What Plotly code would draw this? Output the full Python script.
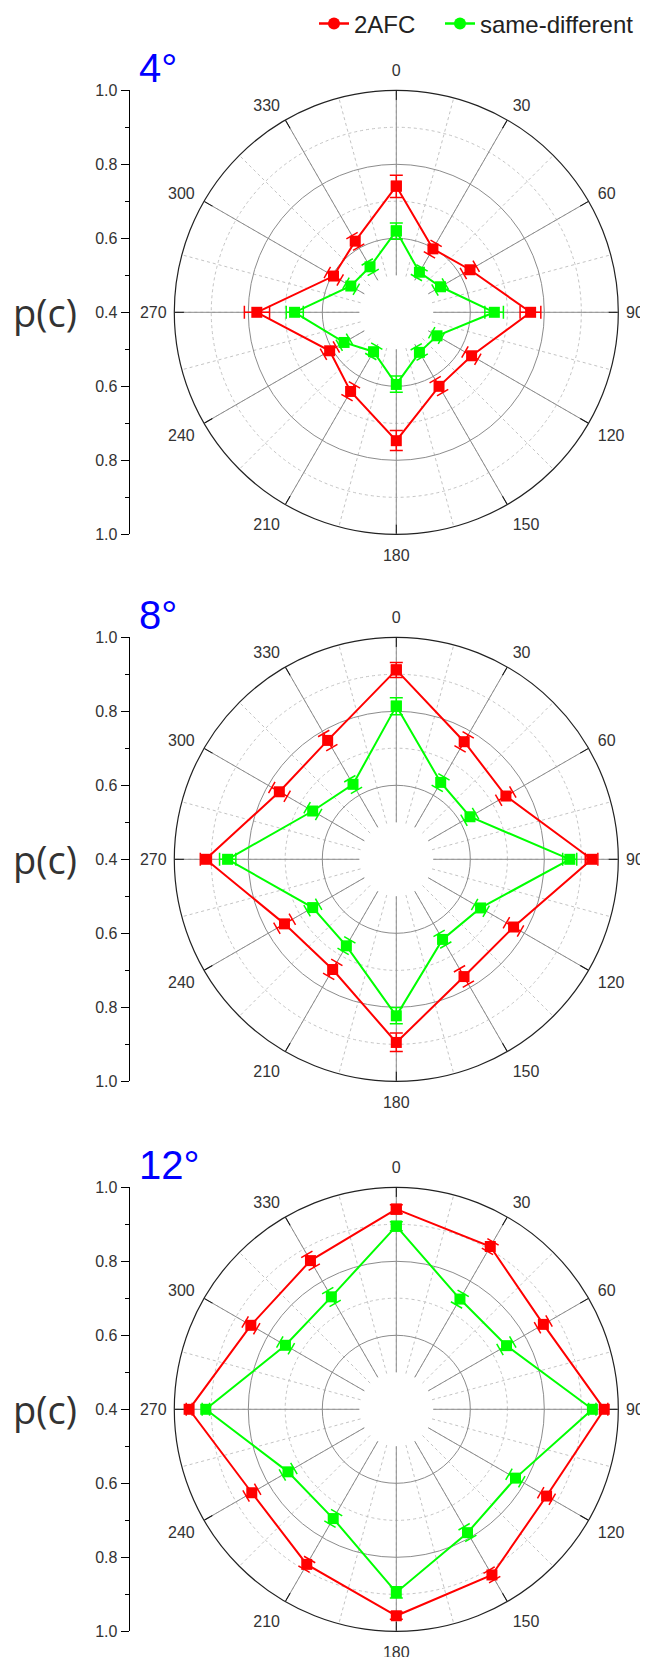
import math
import plotly.graph_objects as go

# ---------------- data ----------------
angles = [0, 30, 60, 90, 120, 150, 180, 210, 240, 270, 300, 330]
angle_labels = [str(a) for a in angles]

panel_titles = ["4°", "8°", "12°"]

p4_2afc = [0.741, 0.598, 0.630, 0.763, 0.635, 0.631, 0.747, 0.647, 0.608, 0.777, 0.596, 0.622]
p4_2afc_err = [0.030, 0.018, 0.020, 0.028, 0.020, 0.020, 0.027, 0.020, 0.020, 0.034, 0.020, 0.018]
p4_sd = [0.620, 0.525, 0.538, 0.665, 0.527, 0.525, 0.595, 0.523, 0.563, 0.675, 0.542, 0.542]
p4_sd_err = [0.022, 0.015, 0.016, 0.025, 0.015, 0.016, 0.022, 0.016, 0.016, 0.023, 0.016, 0.016]

p8_2afc = [0.912, 0.767, 0.742, 0.928, 0.766, 0.766, 0.895, 0.744, 0.749, 0.915, 0.765, 0.771]
p8_2afc_err = [0.020, 0.022, 0.022, 0.017, 0.022, 0.024, 0.025, 0.022, 0.024, 0.015, 0.024, 0.022]
p8_sd = [0.814, 0.640, 0.630, 0.869, 0.663, 0.650, 0.823, 0.670, 0.661, 0.856, 0.661, 0.634]
p8_sd_err = [0.023, 0.018, 0.018, 0.019, 0.018, 0.018, 0.022, 0.018, 0.018, 0.022, 0.018, 0.018]

p12_2afc = [0.941, 0.908, 0.859, 0.962, 0.869, 0.917, 0.958, 0.884, 0.851, 0.960, 0.854, 0.864]
p12_2afc_err = [0.012, 0.015, 0.018, 0.010, 0.018, 0.015, 0.010, 0.015, 0.018, 0.008, 0.018, 0.020]
p12_sd = [0.895, 0.744, 0.744, 0.930, 0.772, 0.785, 0.895, 0.741, 0.738, 0.915, 0.746, 0.751]
p12_sd_err = [0.012, 0.018, 0.020, 0.010, 0.020, 0.018, 0.015, 0.018, 0.018, 0.010, 0.018, 0.020]

series_names = ["2AFC", "same-different"]

# left p(c) axis: signed distance from centre -> label
pc_tickvals = [-0.6, -0.4, -0.2, 0.0, 0.2, 0.4, 0.6]
pc_ticktext = ["1.0", "0.8", "0.6", "0.4", "0.6", "0.8", "1.0"]
pc_minor = [-0.5, -0.3, -0.1, 0.1, 0.3, 0.5]

# ---------------- style / geometry ----------------
PAGE_W, PAGE_H = 648, 1657
OFF = 8  # page body margin
W, H = PAGE_W - OFF, PAGE_H - OFF
CX, RAD = 396.3, 222.0
CYS = [312.3, 859.3, 1409.3]
R_MIN, R_HOLE, R_MAX = 0.4, 0.5, 1.0
PX_PER_UNIT = RAD / (R_MAX - R_MIN)
CAP_HALF_PX = 6.5
RED, GREEN = "#ff0000", "#00ff00"
TXT = "#333333"
FONT = "Liberation Sans, Arial, sans-serif"

# horizontal (90/270) labels sit a little closer to the circle than the others
is_side = [a % 180 == 90 for a in angles]
labels_side = [t if s else "" for t, s in zip(angle_labels, is_side)]
labels_rest = ["" if s else t for t, s in zip(angle_labels, is_side)]


def fx(x):
    return (x - OFF) / W


def fy(y):
    return 1 - (y - OFF) / H


def err_segments(vals, errs):
    rr, tt = [], []
    for a, v, e in zip(angles, vals, errs):
        rr += [v - e, v + e, None]
        tt += [a, a, None]
        for rc in (v - e, v + e):
            d = math.degrees(CAP_HALF_PX / ((rc - R_MIN) * PX_PER_UNIT))
            rr += [rc, rc, None]
            tt += [a - d, a + d, None]
    return rr, tt


panels = [
    (p4_2afc, p4_2afc_err, p4_sd, p4_sd_err),
    (p8_2afc, p8_2afc_err, p8_sd, p8_sd_err),
    (p12_2afc, p12_2afc_err, p12_sd, p12_sd_err),
]

fig = go.Figure()
layout = {}
annotations = []
hole = (R_HOLE - R_MIN) / (R_MAX - R_MIN)
ang_common = dict(rotation=90, direction="clockwise")
tick_font = dict(size=16, color=TXT, family=FONT)

for i, (afc, afc_e, sd, sd_e) in enumerate(panels):
    cy = CYS[i]
    xd = [fx(CX - RAD), fx(CX + RAD)]
    yd = [fy(cy + RAD), fy(cy - RAD)]
    ids = []
    for j in range(4):
        k = 4 * i + j + 1
        ids.append("polar" if k == 1 else f"polar{k}")
    # layer A: dotted minor grid
    layout[ids[0]] = dict(
        domain=dict(x=xd, y=yd), bgcolor="white", hole=hole,
        radialaxis=dict(range=[R_HOLE - 0.0005, R_MAX], tickmode="array",
                        tickvals=[0.5, 0.7, 0.9], showticklabels=False, ticks="",
                        showline=False, gridcolor="#c4c4c4", griddash="dot", gridwidth=1),
        angularaxis=dict(**ang_common, tickmode="linear", tick0=0, dtick=15,
                         showticklabels=False, ticks="", showline=False,
                         gridcolor="#c4c4c4", griddash="dot", gridwidth=1),
    )
    # layer B: solid major grid + 90/270 labels
    layout[ids[1]] = dict(
        domain=dict(x=xd, y=yd), bgcolor="rgba(0,0,0,0)", hole=hole,
        radialaxis=dict(range=[R_HOLE, R_MAX], tickmode="array", tickvals=[0.6, 0.8],
                        showticklabels=False, ticks="", showline=False,
                        gridcolor="#8c8c8c", gridwidth=1),
        angularaxis=dict(**ang_common, tickmode="array", tickvals=angles,
                         ticktext=labels_side, ticks="outside", ticklen=4,
                         tickcolor="rgba(0,0,0,0)", tickfont=tick_font, showline=False,
                         gridcolor="#8c8c8c", gridwidth=1),
    )
    # layer D: outer circle with inside ticks
    layout[ids[2]] = dict(
        domain=dict(x=xd, y=yd), bgcolor="rgba(0,0,0,0)", hole=0,
        radialaxis=dict(range=[R_MIN, R_MAX], visible=False),
        angularaxis=dict(**ang_common, tickmode="array", tickvals=angles,
                         showticklabels=False, ticks="inside", ticklen=9,
                         tickcolor="#111", tickwidth=1.2, showline=True,
                         linecolor="#222", linewidth=1.2, showgrid=False),
    )
    # layer C: data + remaining angle labels
    layout[ids[3]] = dict(
        domain=dict(x=xd, y=yd), bgcolor="rgba(0,0,0,0)", hole=hole,
        radialaxis=dict(range=[R_HOLE, R_MAX], visible=False),
        angularaxis=dict(**ang_common, tickmode="array", tickvals=angles,
                         ticktext=labels_rest, ticks="outside", ticklen=7,
                         tickcolor="rgba(0,0,0,0)", showline=False, showgrid=False,
                         tickfont=tick_font),
    )
    # empty traces so that the grid layers are drawn
    for sp in ids[:3]:
        fig.add_trace(go.Scatterpolar(r=[None], theta=[None], subplot=sp, mode="lines",
                                      showlegend=False, hoverinfo="skip"))
    for vals, errs, color in ((afc, afc_e, RED), (sd, sd_e, GREEN)):
        rr, tt = err_segments(vals, errs)
        fig.add_trace(go.Scatterpolar(r=rr, theta=tt, mode="lines", subplot=ids[3],
                                      line=dict(color=color, width=1.5),
                                      showlegend=False, hoverinfo="skip"))
        fig.add_trace(go.Scatterpolar(r=vals + vals[:1], theta=angles + angles[:1],
                                      mode="lines+markers", subplot=ids[3],
                                      line=dict(color=color, width=2),
                                      marker=dict(symbol="square", size=11, color=color),
                                      showlegend=False))
    # left p(c) axis
    n = i + 1
    xn = "x" if n == 1 else f"x{n}"
    yn = "y" if n == 1 else f"y{n}"
    layout["xaxis" if n == 1 else f"xaxis{n}"] = dict(
        domain=[fx(129.6), fx(160)], anchor=yn, visible=False, range=[0, 1], fixedrange=True)
    layout["yaxis" if n == 1 else f"yaxis{n}"] = dict(
        domain=yd, anchor=xn, range=[-0.6, 0.6], tickmode="array",
        tickvals=pc_tickvals, ticktext=pc_ticktext, ticks="outside", ticklen=8,
        tickcolor="black", tickwidth=1, showline=True, linecolor="black", linewidth=1,
        showgrid=False, zeroline=False, fixedrange=True, automargin=False,
        tickfont=tick_font,
        minor=dict(tickmode="array", tickvals=pc_minor, ticks="outside", ticklen=4,
                   tickcolor="black", tickwidth=1, showgrid=False))
    fig.add_trace(go.Scatter(x=[None], y=[None], xaxis=xn, yaxis=yn,
                             showlegend=False, hoverinfo="skip"))
    annotations.append(dict(text="p(c)", x=fx(45), y=fy(cy), xref="paper", yref="paper",
                            xanchor="center", yanchor="middle", showarrow=False,
                            font=dict(size=38, color=TXT, family="Open Sans, sans-serif")))
    annotations.append(dict(text=panel_titles[i], x=fx(137), y=fy(cy - RAD) - 0.001,
                            xref="paper", yref="paper", xanchor="left", yanchor="bottom",
                            showarrow=False,
                            font=dict(size=40, color="#0000ff", family=FONT)))

# legend entries (one legend box per entry, to reproduce the spacing)
legend_ids = ["legend", "legend2"]
legend_x = [314, 440]
for name, color, lid in zip(series_names, (RED, GREEN), legend_ids):
    fig.add_trace(go.Scatterpolar(r=[None], theta=[None], mode="lines+markers",
                                  name=name, subplot="polar4", legend=lid,
                                  line=dict(color=color, width=2.5),
                                  marker=dict(symbol="circle", size=12, color=color)))

legend_style = dict(orientation="h", xref="container", yref="container",
                    xanchor="left", y=fy(24), yanchor="middle",
                    font=dict(size=24, color="#222", family=FONT),
                    bgcolor="rgba(0,0,0,0)")

fig.update_layout(
    width=W, height=H, margin=dict(l=0, r=0, t=0, b=0, autoexpand=False),
    paper_bgcolor="white", plot_bgcolor="white",
    font=dict(family=FONT, color=TXT),
    showlegend=True,
    legend=dict(x=fx(legend_x[0]), **legend_style),
    legend2=dict(x=fx(legend_x[1]), **legend_style),
    annotations=annotations,
    **layout,
)

fig.write_html("out.html")
